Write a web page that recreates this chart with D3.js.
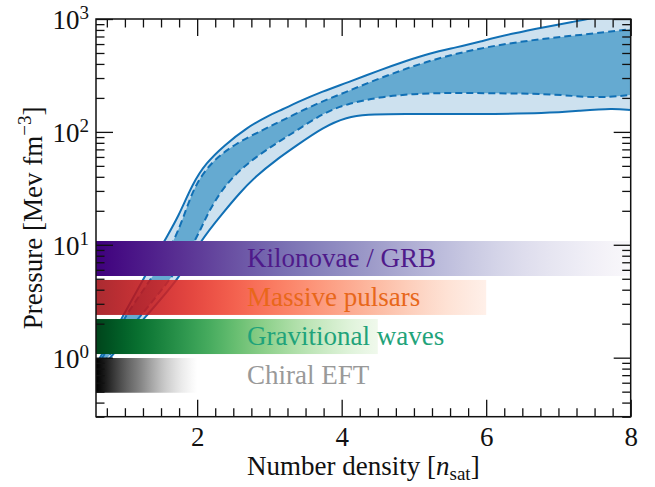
<!DOCTYPE html>
<html>
<head>
<meta charset="utf-8">
<script src="https://cdn.jsdelivr.net/npm/d3@7"></script>
<style>
  body { margin: 0; background: #fff; }
</style>
</head>
<body>
<svg id="chart" width="655" height="487"></svg>
<script>
// ---- data ----
var xDomain = [0.6, 8];
var yDomain = [0.3, 1000];
var xMajor = [2, 4, 6, 8];
var yMajor = [1, 10, 100, 1000];
var yExp = ["0", "1", "2", "3"];

// [n/n_sat, pressure]
var outerUpper = [[0.6,0.86],[0.669,1.035],[0.974,2.34],[1.264,5.08],[1.569,11.5],[1.74,17.7],[1.938,35],
  [2.122,53],[2.376,76],[2.676,108],[2.998,141],[3.184,158],[3.368,181],[3.746,230],[4.07,272],
  [4.53,353],[4.9,427],[5.22,497],[5.59,561],[5.91,630],[6.375,747],[6.84,855],[7.205,946],[7.48,1015],[8.0,1250]];
var innerUpper = [[0.6,0.79],[0.711,1.06],[1.001,2.34],[1.375,5.08],[1.684,10.6],[1.86,21.7],[1.984,35],
  [2.215,56],[2.537,79],[2.907,104],[3.184,127],[3.607,173],[4.07,227],[4.53,300],[5.22,433],
  [5.91,553],[6.61,651],[7.3,721],[7.99,811]];
var innerLower = [[0.6,0.75],[0.794,1.06],[1.209,2.34],[1.652,5.08],[1.984,11.0],[2.122,17.7],[2.306,28.6],
  [2.537,43],[2.814,60],[3.091,79],[3.368,102],[3.746,147],[4.07,177],[4.53,204],[4.99,217],
  [5.45,222],[6.15,220],[6.84,217],[7.2,208],[7.48,202],[7.76,205],[7.99,212]];
var outerLower = [[0.6,0.71],[0.831,1.06],[1.292,2.34],[1.762,5.08],[2.04,10.8],[2.353,19.0],[2.583,28.6],
  [2.814,40.6],[3.091,56.4],[3.368,75],[3.742,110],[4.074,135.5],[4.35,142.6],[4.766,144],[5.914,144],
  [6.841,146],[7.298,154],[7.755,162],[7.99,156]];

// constraint bars
var barNames = ["Kilonovae / GRB", "Massive pulsars", "Gravitional waves", "Chiral EFT"];
var barTop = [10.8, 4.88, 2.2, 0.993];
var barBottom = [5.29, 2.39, 1.077, 0.489];
var barEnd = [8, 6, 4.5, 2];
var labelX = 2.69;

// ---- styles ----
var serif = '"Liberation Serif", "DejaVu Serif", "Noto Serif", Tinos, "Nimbus Roman", FreeSerif, Times, serif';
var barInterp = [d3.interpolatePurples, d3.interpolateReds, d3.interpolateGreens, d3.interpolateGreys];
var barT = [[1, 0.03], [0.88, 0.04], [1, 0.05], [1, 0]];
var barOpacity = [1, 0.88, 1, 1];
var labelColor = ["#4f1a8a", "#e8671a", "#1fa37a", "#999999"];
var lineColor = "#1170b5";

var margin = {top: 19, right: 24.3, bottom: 70.3, left: 96};
var svg = d3.select("#chart").style("font-family", serif);
var width = 655 - margin.left - margin.right,
    height = 487 - margin.top - margin.bottom;

var g = svg.append("g").attr("transform", "translate(" + margin.left + "," + margin.top + ")");

var x = d3.scaleLinear().domain(xDomain).range([0, width]);
var y = d3.scaleLog().domain(yDomain).range([height, 0]);

var defs = svg.append("defs");
defs.append("clipPath").attr("id", "plotclip")
  .append("rect").attr("width", width).attr("height", height);

var plot = g.append("g").attr("clip-path", "url(#plotclip)");

// band
var line = d3.line()
  .x(function(d) { return x(d[0]); })
  .y(function(d) { return y(d[1]); })
  .curve(d3.curveBasis);

function bandPath(up, lo) {
  return line(up) + line(lo.slice().reverse()).replace(/^M/, "L") + "Z";
}

plot.append("path").attr("d", bandPath(outerUpper, outerLower)).attr("fill", "#cde1ef");
plot.append("path").attr("d", bandPath(innerUpper, innerLower)).attr("fill", "#65aad1");

[innerUpper, innerLower].forEach(function(c) {
  plot.append("path").attr("d", line(c)).attr("fill", "none")
    .attr("stroke", lineColor).attr("stroke-width", 2).attr("stroke-dasharray", "7,4");
});
[outerUpper, outerLower].forEach(function(c) {
  plot.append("path").attr("d", line(c)).attr("fill", "none")
    .attr("stroke", lineColor).attr("stroke-width", 2);
});

// bars with gradients
barNames.forEach(function(name, i) {
  var grad = defs.append("linearGradient").attr("id", "grad" + i)
    .attr("x1", "0%").attr("x2", "100%").attr("y1", "0%").attr("y2", "0%");
  d3.range(0, 1.0001, 0.05).forEach(function(f) {
    var t = barT[i][0] + (barT[i][1] - barT[i][0]) * f;
    grad.append("stop").attr("offset", (f * 100) + "%").attr("stop-color", barInterp[i](t));
  });
  plot.append("rect")
    .attr("x", x(xDomain[0]))
    .attr("width", x(barEnd[i]) - x(xDomain[0]))
    .attr("y", y(barTop[i]))
    .attr("height", y(barBottom[i]) - y(barTop[i]))
    .attr("fill", "url(#grad" + i + ")")
    .attr("opacity", barOpacity[i]);
  plot.append("text")
    .attr("x", x(labelX))
    .attr("y", y(Math.sqrt(barTop[i] * barBottom[i])))
    .attr("dy", "0.33em")
    .attr("font-size", 27)
    .attr("fill", labelColor[i])
    .text(name);
});

// axes
var xMinor = d3.range(0.75, 8, 0.25).filter(function(v) { return xMajor.indexOf(v) < 0; });
var yMinor = [];
[0.1, 1, 10, 100].forEach(function(dec) {
  for (var k = 2; k <= 9; k++) {
    var v = dec * k;
    if (v >= yDomain[0] && v <= yDomain[1]) yMinor.push(v);
  }
});

function styleAxis(sel) {
  sel.select(".domain").remove();
  sel.selectAll(".tick line").attr("stroke", "#111").attr("stroke-width", 1.3);
  sel.attr("font-family", null).attr("font-size", null);
}

var MAJ = 17, MIN = 8.5;

var gx = g.append("g").attr("transform", "translate(0," + height + ")")
  .call(d3.axisBottom(x).tickValues(xMajor).tickSizeInner(-MAJ).tickSizeOuter(0).tickPadding(10)
    .tickFormat(d3.format("d")));
styleAxis(gx);
gx.selectAll(".tick text").attr("font-size", 27).attr("fill", "#111");

g.append("g").attr("transform", "translate(0," + height + ")")
  .call(d3.axisBottom(x).tickValues(xMinor).tickSize(-MIN).tickFormat("")).call(styleAxis);
g.append("g").call(d3.axisTop(x).tickValues(xMajor).tickSize(-MAJ).tickFormat("")).call(styleAxis);
g.append("g").call(d3.axisTop(x).tickValues(xMinor).tickSize(-MIN).tickFormat("")).call(styleAxis);

var gy = g.append("g")
  .call(d3.axisLeft(y).tickValues(yMajor).tickSizeInner(-MAJ).tickSizeOuter(0).tickPadding(7)
    .tickFormat(function() { return ""; }));
styleAxis(gy);
gy.selectAll(".tick text").each(function(d, i) {
  var t = d3.select(this).attr("font-size", 27).attr("fill", "#111").attr("dy", "0.36em");
  t.append("tspan").text("10");
  t.append("tspan").attr("font-size", 19).attr("dy", -10).text(yExp[i]);
});

g.append("g").call(d3.axisLeft(y).tickValues(yMinor).tickSize(-MIN).tickFormat("")).call(styleAxis);
g.append("g").attr("transform", "translate(" + width + ",0)")
  .call(d3.axisRight(y).tickValues(yMajor).tickSize(-MAJ).tickFormat("")).call(styleAxis);
g.append("g").attr("transform", "translate(" + width + ",0)")
  .call(d3.axisRight(y).tickValues(yMinor).tickSize(-MIN).tickFormat("")).call(styleAxis);

// frame
g.append("rect").attr("width", width).attr("height", height)
  .attr("fill", "none").attr("stroke", "#111").attr("stroke-width", 1.5);

// axis titles
var xl = svg.append("text")
  .attr("x", margin.left + width / 2).attr("y", 475)
  .attr("text-anchor", "middle").attr("font-size", 27).attr("fill", "#111");
xl.append("tspan").text("Number density [");
xl.append("tspan").attr("font-style", "italic").text("n");
xl.append("tspan").attr("font-size", 19).attr("dy", 5).text("sat");
xl.append("tspan").attr("dy", -5).text("]");

var yl = svg.append("text")
  .attr("transform", "translate(42," + (margin.top + height / 2) + ") rotate(-90)")
  .attr("text-anchor", "middle").attr("font-size", 27).attr("fill", "#111");
yl.append("tspan").text("Pressure [Mev fm");
yl.append("tspan").attr("font-size", 19).attr("dy", -11).text("\u22123");
yl.append("tspan").attr("dy", 11).text("]");
</script>
</body>
</html>
